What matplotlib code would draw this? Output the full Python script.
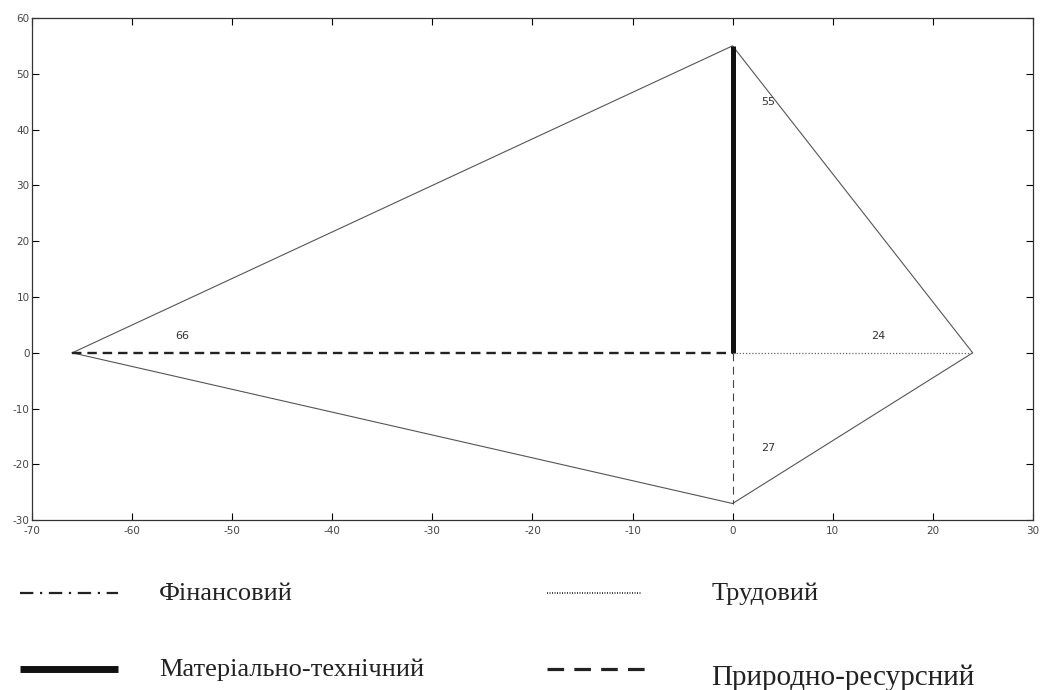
import matplotlib.pyplot as plt
from matplotlib.lines import Line2D

plt.rcParams['axes.unicode_minus'] = False

# values along each axis of the diagram
left_val = 66     # natural resources (to the left)
top_val = 55      # material-technical (up)
right_val = 24    # labour (to the right)
bottom_val = 27   # financial (down)

legend_names = ['Фінансовий', 'Трудовий', 'Матеріально-технічний', 'Природно-ресурсний']

fig = plt.figure(figsize=(10.4, 6.9), dpi=100)
ax = fig.add_axes([0.031, 0.246, 0.962, 0.728])

# outer polygon
px = [-left_val, 0, right_val, 0, -left_val]
py = [0, top_val, 0, -bottom_val, 0]
ax.plot(px, py, color='#555555', lw=0.8)

# axis rays
ax.plot([-left_val, 0], [0, 0], color='#222222', lw=1.7, ls=(0, (4, 2.5)))
ax.plot([0, 0], [0, top_val], color='#111111', lw=3.6, solid_capstyle='butt')
ax.plot([0, right_val], [0, 0], color='#666666', lw=0.9, ls=(0, (1, 1.5)))
ax.plot([0, 0], [0, -bottom_val], color='#444444', lw=0.8, ls=(0, (7, 5)))

lab_kw = dict(fontsize=8, color='#333333', ha='center', va='center')
ax.text(-55, 3, str(left_val), **lab_kw)
ax.text(3.6, 45, str(top_val), **lab_kw)
ax.text(14.6, 3, str(right_val), **lab_kw)
ax.text(3.6, -17, str(bottom_val), **lab_kw)

ax.set_xlim(-70, 30)
ax.set_ylim(-30, 60)
ax.set_xticks(range(-70, 31, 10))
ax.set_yticks(range(-30, 61, 10))
ax.tick_params(direction='in', top=True, right=True, labelsize=7.5,
               labelcolor='#444444', length=5, width=0.8, pad=2)
ax.tick_params(axis='x', pad=4)
for s in ax.spines.values():
    s.set_linewidth(0.9)
    s.set_color('#333333')

# hand-drawn legend below the axes
leg_styles = [
    dict(color='#222222', lw=1.6, ls=(0, (6, 3, 1, 3))),
    dict(color='#222222', lw=1.2, ls=(0, (0.6, 0.9))),
    dict(color='#111111', lw=5.0, solid_capstyle='butt'),
    dict(color='#222222', lw=2.3, ls=(0, (5.2, 3.2))),
]
line_x = [(0.019, 0.113), (0.526, 0.617), (0.019, 0.113), (0.526, 0.62)]
line_y = [1 - 593 / 690, 1 - 593 / 690, 1 - 669 / 690, 1 - 669 / 690]
text_x = [0.153, 0.684, 0.153, 0.684]
text_y = [1 - 594 / 690, 1 - 594 / 690, 1 - 670 / 690, 1 - 678 / 690]
text_size = [19, 19, 19, 21]
for i, name in enumerate(legend_names):
    fig.add_artist(Line2D(line_x[i], [line_y[i], line_y[i]],
                          transform=fig.transFigure, **leg_styles[i]))
    fig.text(text_x[i], text_y[i], name, family='Liberation Serif',
             fontsize=text_size[i], color='#222222', va='center', ha='left')

fig.savefig('out.png', dpi=100)
